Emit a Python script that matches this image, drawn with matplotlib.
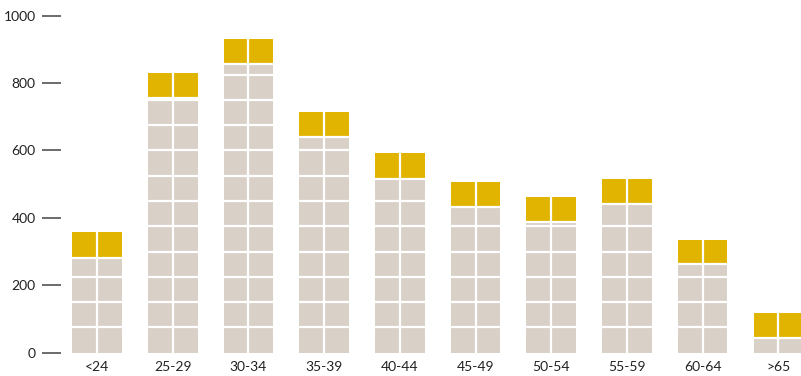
import numpy as np
import matplotlib
matplotlib.use("Agg")
import matplotlib.pyplot as plt

plt.rcParams['font.family'] = ['Lato', 'DejaVu Sans']

age_groups = ["<24", "25-29", "30-34", "35-39", "40-44", "45-49", "50-54", "55-59", "60-64", ">65"]
grey_values = [282, 757, 858, 640, 515, 433, 388, 442, 263, 45]
gold_values = [76, 74, 73, 74, 78, 73, 74, 73, 71, 73]
y_ticks = [0, 200, 400, 600, 800, 1000]

BLOCK = 75
GREY = "#d9d0c7"
GOLD = "#e0b400"
TEXT = "#222222"


def draw_blocks(ax, x, width):
    ax.bar(x, grey_values, width=width, color=GREY, linewidth=0)
    ax.bar(x, gold_values, width=width, bottom=grey_values, color=GOLD, linewidth=0)

    for xi, grey, gold in zip(x, grey_values, gold_values):
        # white grid cutting each bar into blocks
        levels = list(np.arange(BLOCK, grey, BLOCK)) + [grey]
        ax.hlines(levels, xi - width / 2, xi + width / 2, colors="white", linewidth=1.6)
        ax.vlines(xi, 0, grey + gold, colors="white", linewidth=1.6)


fig = plt.figure(figsize=(8.01, 3.76), dpi=100)
ax = fig.add_axes([61 / 801, (376 - 352.7) / 376, 1 - 61 / 801, (352.7 - 15.7) / 376])

x = np.arange(len(age_groups))
draw_blocks(ax, x, 0.655)

ax.set_xlim(-0.476, 9.30)
ax.set_ylim(0, 1000)

ax.set_yticks(y_ticks)
ax.set_yticklabels([str(t) for t in y_ticks])
ax.set_xticks(x)
ax.set_xticklabels(age_groups)

ax.tick_params(axis="y", length=13.7, width=1.1, color="#444444", pad=4.5,
               labelsize=10, labelcolor=TEXT)
ax.tick_params(axis="x", length=0, pad=6, labelsize=10, labelcolor=TEXT)

for side in ["top", "right", "bottom", "left"]:
    ax.spines[side].set_visible(False)

fig.savefig("out.png", dpi=100)
